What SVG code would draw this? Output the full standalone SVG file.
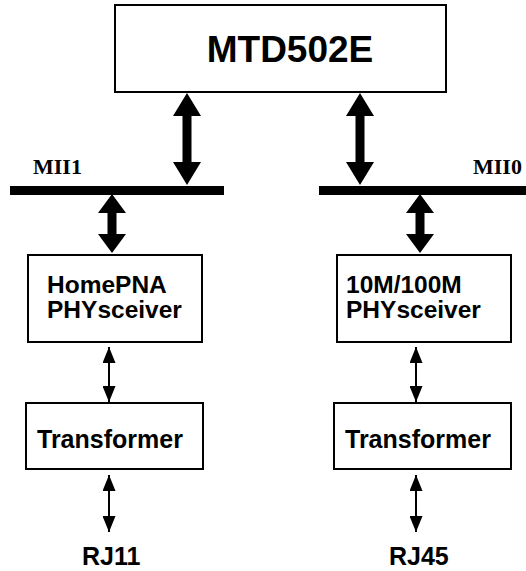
<svg xmlns="http://www.w3.org/2000/svg" width="526" height="571" viewBox="0 0 526 571">
<defs>
<style>
.box{fill:#fff;stroke:#000;stroke-width:2}
.t{font-family:"Liberation Sans",Arial,sans-serif;font-weight:bold;fill:#000}
.s{font-family:"Liberation Serif","Times New Roman",serif;font-weight:bold;fill:#000;font-size:22px}
.thin{stroke:#000;stroke-width:2;fill:none}
.bar{fill:#000}
.big{fill:#000}
</style>
<marker id="ah" markerUnits="userSpaceOnUse" markerWidth="16" markerHeight="13" refX="16" refY="6.5" orient="auto-start-reverse" viewBox="0 0 16 13">
<path d="M0,0 L16,6.5 L0,13 Z" fill="#000"/>
</marker>
</defs>
<rect width="526" height="571" fill="#fff"/>
<g id="connectors">
<rect class="bar" x="10" y="186" width="214" height="9"/>
<rect class="bar" x="319" y="186" width="207" height="9"/>
<polygon class="big" points="187,93 201,116 191.5,116 191.5,162 201,162 187,185 173,162 182.5,162 182.5,116 173,116"/>
<polygon class="big" points="360,93 374,116 364.5,116 364.5,162 374,162 360,185 346,162 355.5,162 355.5,116 346,116"/>
<polygon class="big" points="112,194 126,213 116.5,213 116.5,234 126,234 112,253 98,234 107.5,234 107.5,213 98,213"/>
<polygon class="big" points="420,194 434,213 424.5,213 424.5,234 434,234 420,253 406,234 415.5,234 415.5,213 406,213"/>
<line class="thin" x1="109" y1="347" x2="109" y2="402" marker-start="url(#ah)" marker-end="url(#ah)"/>
<line class="thin" x1="416" y1="347" x2="416" y2="402" marker-start="url(#ah)" marker-end="url(#ah)"/>
<line class="thin" x1="109" y1="475" x2="109" y2="532" marker-start="url(#ah)" marker-end="url(#ah)"/>
<line class="thin" x1="416" y1="475" x2="416" y2="532" marker-start="url(#ah)" marker-end="url(#ah)"/>
</g>
<g id="mtd502e">
<rect class="box" x="115" y="5" width="331" height="87"/>
<text class="t" x="290" y="62" font-size="37" text-anchor="middle">MTD502E</text>
</g>
<g id="mii1"><text class="s" x="33" y="174">MII1</text></g>
<g id="mii0"><text class="s" x="473" y="174">MII0</text></g>
<g id="homepna">
<rect class="box" x="28" y="255" width="174" height="87"/>
<text class="t" x="47" y="293" font-size="24.5">HomePNA</text>
<text class="t" x="47" y="318" font-size="24.5">PHYsceiver</text>
</g>
<g id="phy100">
<rect class="box" x="337" y="255" width="174" height="87"/>
<text class="t" x="346" y="293" font-size="24.5">10M/100M</text>
<text class="t" x="346" y="318" font-size="24.5">PHYsceiver</text>
</g>
<g id="transformer1">
<rect class="box" x="26" y="403" width="177" height="66"/>
<text class="t" x="37" y="448" font-size="25">Transformer</text>
</g>
<g id="transformer2">
<rect class="box" x="334" y="403" width="177" height="66"/>
<text class="t" x="345" y="448" font-size="25">Transformer</text>
</g>
<g id="rj11"><text class="t" x="82" y="565" font-size="25">RJ11</text></g>
<g id="rj45"><text class="t" x="389" y="565" font-size="25">RJ45</text></g>
</svg>
